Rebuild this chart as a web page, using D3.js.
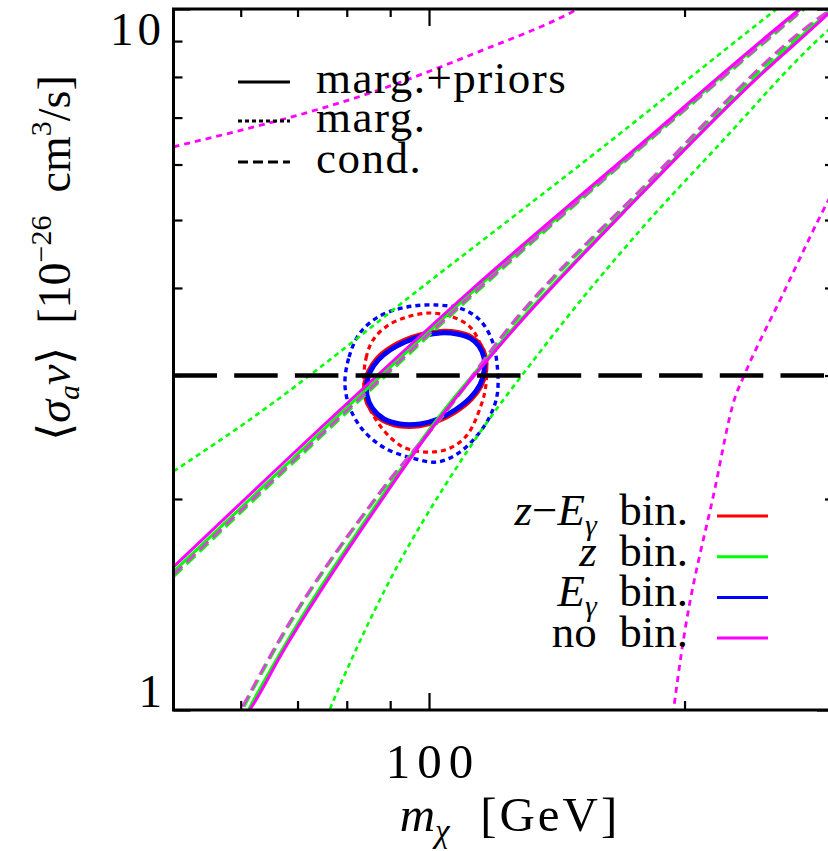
<!DOCTYPE html>
<html><head><meta charset="utf-8">
<script src="https://cdn.jsdelivr.net/npm/d3@7"></script>
<style>
body{margin:0;background:#fff;}
svg text{font-family:"Liberation Serif","DejaVu Serif",serif;fill:#000;}
</style></head><body>
<svg id="chart" width="828" height="851"></svg>
<script>
// Tick positions
const xMajorTicks = [100];
const xMinorTicks = [60, 70, 80, 90, 200, 300];
const yMajorTicks = [1, 10];
const yMinorTicks = [2, 3, 4, 5, 6, 7, 8, 9];

// Reference cross-section <sigma v> = 3e-26 cm^3/s
const thermalValue = 3;

// No binning: marg.+priors (solid), cond. (dashed), marg. (dotted) — [m_chi GeV, <sigma v>]
const noBinPriorsUpper = [[50, 1.60], [77, 2.62], [112, 3.97], [174, 6.28], [270, 9.87], [285, 10.4]];
const noBinPriorsLower = [[60, 0.96], [61.8, 1.01], [66.9, 1.197], [86.6, 1.94], [102.5, 2.59], [120.6, 3.29], [178, 5.45], [240, 7.84], [296, 9.87], [302, 10.1]];
const noBinCondUpper = [[50, 1.56], [77, 2.56], [112, 3.90], [174, 6.22], [280, 10.15]];
const noBinCondLower = [[59, 0.96], [60.3, 1.01], [66.9, 1.27], [86.6, 2.01], [107, 2.76], [120.6, 3.36], [178, 5.54], [296, 9.94], [302, 10.1]];
const noBinMargUpper = [[50, 6.36], [86.6, 7.64], [113.6, 8.66], [148.3, 9.94], [152, 10.1]];
const noBinMargLower = [[193, 0.95], [194.1, 1.0], [198.4, 1.21], [217, 2.06], [229.1, 2.78], [234.8, 2.99], [260.4, 3.89], [296.6, 5.38], [302, 5.6]];

// z binning
const zBinPriorsUpper = [[50, 1.575], [77, 2.585], [112, 3.93], [174, 6.24], [270, 9.85], [285, 10.4]];
const zBinPriorsLower = [[60.2, 0.96], [61.8, 1.02], [66.9, 1.21], [86.6, 1.96], [102.5, 2.61], [120.6, 3.31], [178, 5.47], [240, 7.86], [296, 9.9], [302, 10.1]];
const zBinCondUpper = [[50, 1.55], [77, 2.545], [112, 3.88], [174, 6.20], [280, 10.12]];
const zBinCondLower = [[59.2, 0.96], [60.5, 1.01], [67.1, 1.27], [86.8, 2.01], [107.2, 2.76], [120.8, 3.35], [178.3, 5.53], [296, 9.92], [302, 10.1]];
const zBinMargUpper = [[50, 2.19], [60.8, 2.57], [103.3, 4.21], [158.3, 6.28], [253.3, 9.87], [265, 10.3]];
const zBinMargLower = [[75, 0.95], [76.6, 1.01], [86.6, 1.40], [111.2, 2.35], [135.6, 3.26], [178, 4.86], [216.4, 6.28], [296.6, 9.37], [302, 9.55]];

// E_gamma binning: closed contours
const eBinPriors = [[85.2, 3.034], [87.1, 3.156], [90.0, 3.263], [93.7, 3.350], [98.1, 3.416], [103.0, 3.450], [107.9, 3.439], [111.8, 3.393], [114.5, 3.306], [116.1, 3.177], [116.1, 3.044], [114.8, 2.909], [111.8, 2.787], [107.3, 2.679], [102.5, 2.601], [97.6, 2.559], [92.4, 2.559], [88.5, 2.601], [85.7, 2.697], [84.5, 2.814], [84.5, 2.928]];
const eBinMarg = [[79.6, 2.917], [80.5, 3.188], [82.9, 3.450], [87.5, 3.648], [94.2, 3.757], [102.2, 3.782], [109.4, 3.733], [114.8, 3.600], [118.6, 3.371], [120.3, 3.106], [120.3, 2.814], [117.7, 2.610], [113.0, 2.435], [107.9, 2.318], [102.2, 2.258], [95.5, 2.288], [88.7, 2.364], [83.6, 2.508], [80.7, 2.697]];

// z-E_gamma binning: closed contours
const zeBinPriors = [[85.0, 3.040], [86.9, 3.166], [89.9, 3.275], [93.6, 3.362], [98.1, 3.428], [103.1, 3.462], [108.1, 3.450], [112.0, 3.402], [114.8, 3.312], [116.4, 3.180], [116.4, 3.040], [115.0, 2.902], [112.0, 2.778], [107.4, 2.668], [102.5, 2.590], [97.5, 2.548], [92.2, 2.548], [88.3, 2.592], [85.5, 2.690], [84.2, 2.810], [84.2, 2.930]];
const zeBinMarg = [[83.8, 2.928], [84.3, 3.177], [85.9, 3.371], [89.2, 3.529], [94.2, 3.636], [100.3, 3.684], [106.7, 3.636], [111.8, 3.518], [114.8, 3.338], [116.7, 3.136], [116.7, 2.909], [115.2, 2.723], [110.9, 2.468], [105.9, 2.364], [100.3, 2.333], [94.5, 2.356], [91.0, 2.419], [87.1, 2.567], [84.7, 2.733]];

// Legend entries
const styleLabels = ["marg.+priors", "marg.", "cond."];
const binLabels = [
  {parts: [["z", true], ["\u2212", false], ["E", true]], sub: "\u03b3", color: "#ff0000"},
  {parts: [["z", true]], sub: null, color: "#00ff00"},
  {parts: [["E", true]], sub: "\u03b3", color: "#0000ff"},
  {parts: [["no", false]], sub: null, color: "#ff00ff"}
];

const RED = "#ff0000", GREEN = "#00ff00", BLUE = "#0000ff", MAG = "#ff00ff";

const svg = d3.select("#chart");
const plotLeft = 173.5, plotRight = 834, plotTop = 9, plotBottom = 710;
const x = d3.scaleLog().domain([50, 300]).range([plotLeft, plotRight]);
const y = d3.scaleLog().domain([1, 10]).range([plotBottom, plotTop]);

svg.append("defs").append("clipPath").attr("id", "plotClip")
  .append("rect").attr("x", plotLeft).attr("y", plotTop)
  .attr("width", plotRight - plotLeft).attr("height", plotBottom - plotTop);

const plot = svg.append("g").attr("clip-path", "url(#plotClip)");

const openLine = d3.line().x(d => x(d[0])).y(d => y(d[1])).curve(d3.curveMonotoneX);
const closedLine = d3.line().x(d => x(d[0])).y(d => y(d[1])).curve(d3.curveCatmullRomClosed.alpha(0.5));

function draw(data, gen, color, width, dash) {
  const p = plot.append("path").attr("d", gen(data)).attr("fill", "none")
    .attr("stroke", color).attr("stroke-width", width)
    .attr("stroke-linejoin", "round");
  if (dash) p.attr("stroke-dasharray", dash);
  return p;
}

const DOT = "5,4", DOT_M = "6,5", DASH = "12,6";

// closed contours
draw(zeBinMarg, closedLine, RED, 3.2, DOT);
draw(eBinMarg, closedLine, BLUE, 3.4, DOT);
draw(zeBinPriors, closedLine, RED, 6);
draw(eBinPriors, closedLine, BLUE, 5);

// z binning
draw(zBinMargUpper, openLine, GREEN, 2.6, DOT);
draw(zBinMargLower, openLine, GREEN, 2.6, DOT);
draw(zBinPriorsUpper, openLine, GREEN, 3);
draw(zBinPriorsLower, openLine, GREEN, 3);
draw(zBinCondUpper, openLine, GREEN, 3, DASH);
draw(zBinCondLower, openLine, GREEN, 3, DASH);

// no binning
draw(noBinMargUpper, openLine, MAG, 2.8, DOT_M);
draw(noBinMargLower, openLine, MAG, 2.8, DOT_M);
draw(noBinCondUpper, openLine, "#d448d4", 3, DASH);
draw(noBinCondLower, openLine, "#d448d4", 3, DASH);
draw(noBinPriorsUpper, openLine, MAG, 3);
draw(noBinPriorsLower, openLine, MAG, 3);

// reference line
plot.append("line")
  .attr("x1", x(50)).attr("x2", x(300))
  .attr("y1", y(thermalValue)).attr("y2", y(thermalValue))
  .attr("stroke", "#000").attr("stroke-width", 4.5)
  .attr("stroke-dasharray", "43.5,17.2");

// axes (inward ticks)
const axG = svg.append("g").attr("class", "axes");
function ticks(axis, values, size, transform) {
  const g = axG.append("g").attr("transform", transform)
    .call(axis.tickValues(values).tickSizeInner(-size).tickSizeOuter(0).tickFormat(""));
  g.select(".domain").remove();
  g.selectAll(".tick line").attr("stroke", "#000").attr("stroke-width", 2.2);
}
ticks(d3.axisBottom(x), xMajorTicks, 17, `translate(0,${plotBottom})`);
ticks(d3.axisBottom(x), xMinorTicks, 9, `translate(0,${plotBottom})`);
ticks(d3.axisTop(x), xMajorTicks, 17, `translate(0,${plotTop})`);
ticks(d3.axisTop(x), xMinorTicks, 8, `translate(0,${plotTop})`);
ticks(d3.axisLeft(y), yMajorTicks, 17, `translate(${plotLeft},0)`);
ticks(d3.axisLeft(y), yMinorTicks, 9, `translate(${plotLeft},0)`);
ticks(d3.axisRight(y), yMajorTicks, 17, `translate(${plotRight},0)`);
ticks(d3.axisRight(y), yMinorTicks, 9, `translate(${plotRight},0)`);

// frame
axG.append("rect").attr("x", plotLeft).attr("y", plotTop)
  .attr("width", plotRight - plotLeft).attr("height", plotBottom - plotTop)
  .attr("fill", "none").attr("stroke", "#000").attr("stroke-width", 3);

// tick labels
svg.append("text").attr("x", x(100) + 4).attr("y", 778).attr("text-anchor", "middle")
  .attr("font-size", 49).attr("letter-spacing", 7).text("100");
svg.append("text").attr("x", 165).attr("y", y(10) + 36).attr("text-anchor", "end")
  .attr("font-size", 47).attr("letter-spacing", 4).text("10");
svg.append("text").attr("x", 162).attr("y", y(1) - 3).attr("text-anchor", "end")
  .attr("font-size", 47).text("1");

// x title
const xt = svg.append("text").attr("x", 510).attr("y", 831).attr("text-anchor", "middle")
  .attr("font-size", 49).attr("letter-spacing", 3);
xt.append("tspan").attr("font-style", "italic").attr("letter-spacing", 0).text("m");
xt.append("tspan").attr("font-style", "italic").attr("font-size", 33).attr("dy", 11).text("\u03c7");
xt.append("tspan").attr("dy", -11).text("\u2002[GeV]");

// y title
const yt = svg.append("text").attr("transform", "translate(70,258) rotate(-90)")
  .attr("text-anchor", "middle").attr("font-size", 46);
yt.append("tspan").text("\u27e8");
yt.append("tspan").attr("font-style", "italic").text("\u03c3");
yt.append("tspan").attr("font-style", "italic").attr("font-size", 30).attr("dy", 9).text("a");
yt.append("tspan").attr("font-style", "italic").attr("dy", -9).text("v");
yt.append("tspan").text("\u27e9\u2002[10");
yt.append("tspan").attr("font-size", 30).attr("dy", -19).text("\u221226");
yt.append("tspan").attr("dy", 19).text("\u2002cm");
yt.append("tspan").attr("font-size", 30).attr("dy", -19).text("3");
yt.append("tspan").attr("dy", 19).text("/s]");

// line-style legend
const styleDash = [null, "4,3", "10,5"];
const styleY = [82, 121, 162];
styleLabels.forEach((lab, i) => {
  const l = svg.append("line").attr("x1", 238).attr("x2", 290).attr("y1", styleY[i]).attr("y2", styleY[i])
    .attr("stroke", "#000").attr("stroke-width", 3);
  if (styleDash[i]) l.attr("stroke-dasharray", styleDash[i]);
  svg.append("text").attr("x", 316).attr("y", styleY[i] + 11).attr("font-size", 45)
    .attr("letter-spacing", 1.5).text(lab);
});

// binning legend
binLabels.forEach((b, i) => {
  const by = 525 + i * 40.7;
  const t = svg.append("text").attr("x", 688).attr("y", by).attr("text-anchor", "end").attr("font-size", 45);
  b.parts.forEach(p => {
    const s = t.append("tspan").text(p[0]);
    if (p[1]) s.attr("font-style", "italic");
  });
  if (b.sub) {
    t.append("tspan").attr("font-style", "italic").attr("font-size", 30).attr("dy", 10).text(b.sub);
    t.append("tspan").attr("dy", -10).text("\u2002bin.");
  } else {
    t.append("tspan").text("\u2002bin.");
  }
  svg.append("line").attr("x1", 717).attr("x2", 768).attr("y1", by - 9).attr("y2", by - 9)
    .attr("stroke", b.color).attr("stroke-width", 3);
});
</script>
</body></html>
